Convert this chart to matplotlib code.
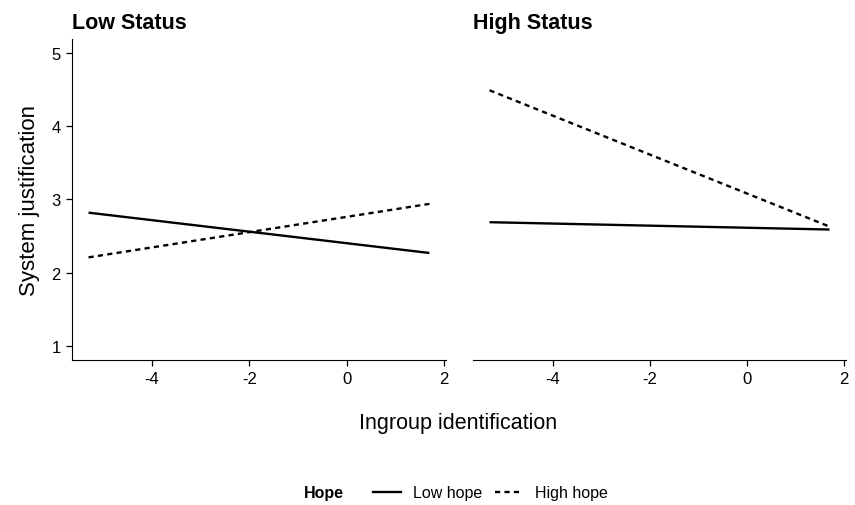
import numpy as np
import matplotlib.pyplot as plt
from matplotlib.lines import Line2D

plt.rcParams['font.family'] = ['Liberation Sans', 'DejaVu Sans']

# ingroup identification range of the simple slopes
x_ends = [-5.3, 1.7]
# system justification at the two ends, per panel
low_status_low_hope = [2.82, 2.27]
low_status_high_hope = [2.21, 2.94]
high_status_low_hope = [2.69, 2.59]
high_status_high_hope = [4.49, 2.63]
panel_titles = ['Low Status', 'High Status']
hope_labels = ['Low hope', 'High hope']
xticks = [-4, -2, 0, 2]
yticks = [1, 2, 3, 4, 5]

fig = plt.figure(figsize=(8.55, 5.06), dpi=100)
ax1 = fig.add_axes([0.0842, 0.2866, 0.4374, 0.6344])
ax2 = fig.add_axes([0.5532, 0.2866, 0.4363, 0.6344])

dash = (0, (2.2, 1.8))
panels = [(ax1, low_status_low_hope, low_status_high_hope),
          (ax2, high_status_low_hope, high_status_high_hope)]
for i, (ax, lo, hi) in enumerate(panels):
    ax.plot(x_ends, lo, color='black', lw=1.7, solid_capstyle='butt')
    ax.plot(x_ends, hi, color='black', lw=1.7, linestyle=dash)
    ax.set_xlim(-5.64, 2.04)
    ax.set_ylim(0.81, 5.19)
    ax.set_xticks(xticks)
    ax.set_xticklabels(['-4', '-2', '0', '2'])
    ax.spines['top'].set_visible(False)
    ax.spines['right'].set_visible(False)
    ax.tick_params(direction='out', length=4, width=0.9, labelsize=12, colors='black', pad=4)
    ax.text(0.0, 1.052, panel_titles[i], transform=ax.transAxes, fontsize=15.5,
            fontweight='bold', ha='left', va='center')

ax1.set_yticks(yticks)
ax1.set_ylabel('System justification', fontsize=16, labelpad=8)
ax2.spines['left'].set_visible(False)
ax2.set_yticks([])

fig.text(0.536, 0.163, 'Ingroup identification', fontsize=15.5, ha='center', va='center')

# legend at the bottom
fig.text(0.379, 0.024, 'Hope', fontsize=11.5, fontweight='bold', ha='center', va='center')
handles = [Line2D([], [], color='black', lw=1.7),
           Line2D([], [], color='black', lw=1.7, linestyle=dash)]
fig.legend(handles, hope_labels, loc='center', bbox_to_anchor=(0.574, 0.024), ncol=2,
           frameon=False, fontsize=11.5, handlelength=1.7, handletextpad=0.8,
           columnspacing=0.8)

fig.savefig('out.png', dpi=100)
